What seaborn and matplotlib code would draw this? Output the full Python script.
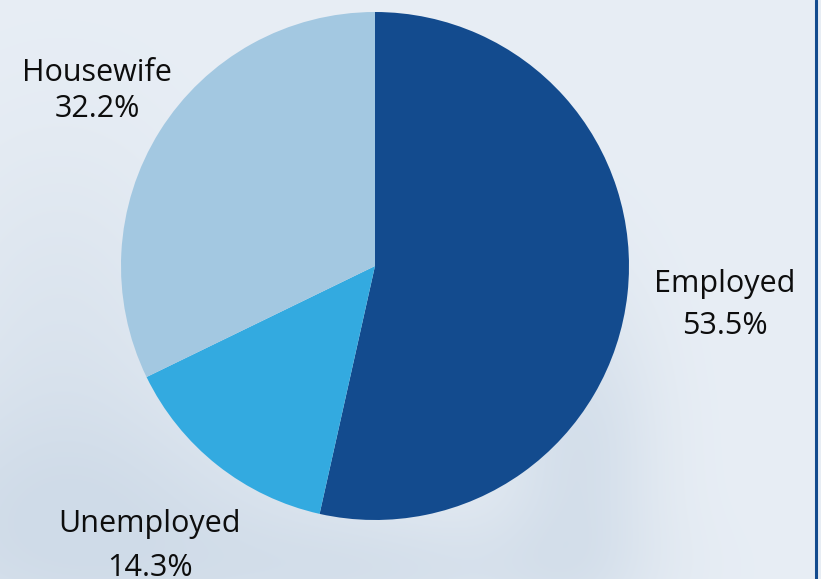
import numpy as np
import matplotlib
matplotlib.use("Agg")
import matplotlib.pyplot as plt
import seaborn as sns
from matplotlib.lines import Line2D

# Employment status shares (%)
categories = ["Employed", "Unemployed", "Housewife"]
shares = [53.5, 14.3, 32.2]
colors = ["#134b8e", "#33aae0", "#a3c8e1"]

sns.set_theme(style="white")
plt.rcParams["font.family"] = ["Open Sans", "DejaVu Sans"]

W, H, DPI = 821, 579, 100
fig = plt.figure(figsize=(W / DPI, H / DPI), dpi=DPI)
fig.patch.set_facecolor("#e6ecf4")

# Soft watercolour-style backdrop
bg = fig.add_axes([0, 0, 1, 1], zorder=0)
yy, xx = np.mgrid[0:H, 0:W]
field = np.zeros((H, W))
for bx, by, sx, sy, a in [
    (80, 540, 300, 140, 0.85),
    (60, 330, 140, 200, 0.45),
    (580, 450, 80, 170, 0.75),
    (420, 570, 200, 60, 0.5),
]:
    field += a * np.exp(-(((xx - bx) / sx) ** 2 + ((yy - by) / sy) ** 2))
field = np.clip(field, 0, 1)
base = np.array([0xe8, 0xee, 0xf5]) / 255
dark = np.array([0xcf, 0xdb, 0xe8]) / 255
img = base[None, None, :] * (1 - field[..., None]) + dark[None, None, :] * field[..., None]
bg.imshow(img, extent=[0, W, H, 0], aspect="auto", interpolation="bilinear")
bg.set_xlim(0, W)
bg.set_ylim(H, 0)
bg.axis("off")

# Right-hand frame line
fig.add_artist(Line2D([815.5 / W, 815.5 / W], [0, 1], color="#134b8e", lw=2.2,
                      transform=fig.transFigure, zorder=5))

# Pie axes: centre (375, 266), radius 254 px
R = 254
pcx, pcy = 375, 266
ax = fig.add_axes([(pcx - R) / W, (H - pcy - R) / H, 2 * R / W, 2 * R / H], zorder=2)
ax.set_facecolor("none")
wedges, _ = ax.pie(shares, colors=colors, startangle=90, counterclock=False,
                   radius=1.0, wedgeprops=dict(linewidth=0))
ax.set_xlim(-1, 1)
ax.set_ylim(-1, 1)
ax.set_aspect("equal")
ax.axis("off")

# Two-line labels outside each wedge, anchored on its mid-angle
label_dist = [1.385, 1.43, 1.29]
line_gap = [21, 22, 18]
nudge = [-8, -3, -7]
for w, cat, val, d, g, n in zip(wedges, categories, shares, label_dist, line_gap, nudge):
    mid = np.deg2rad((w.theta1 + w.theta2) / 2)
    x, y = d * np.cos(mid), d * np.sin(mid)
    for txt, off in [(cat, g + n), (f"{val:.1f}%", -g + n)]:
        ax.annotate(txt, (x, y), xytext=(0, off), textcoords="offset pixels",
                    ha="center", va="baseline", fontsize=22, color="#0d0d0d",
                    annotation_clip=False)

fig.savefig("out.png", dpi=DPI)
